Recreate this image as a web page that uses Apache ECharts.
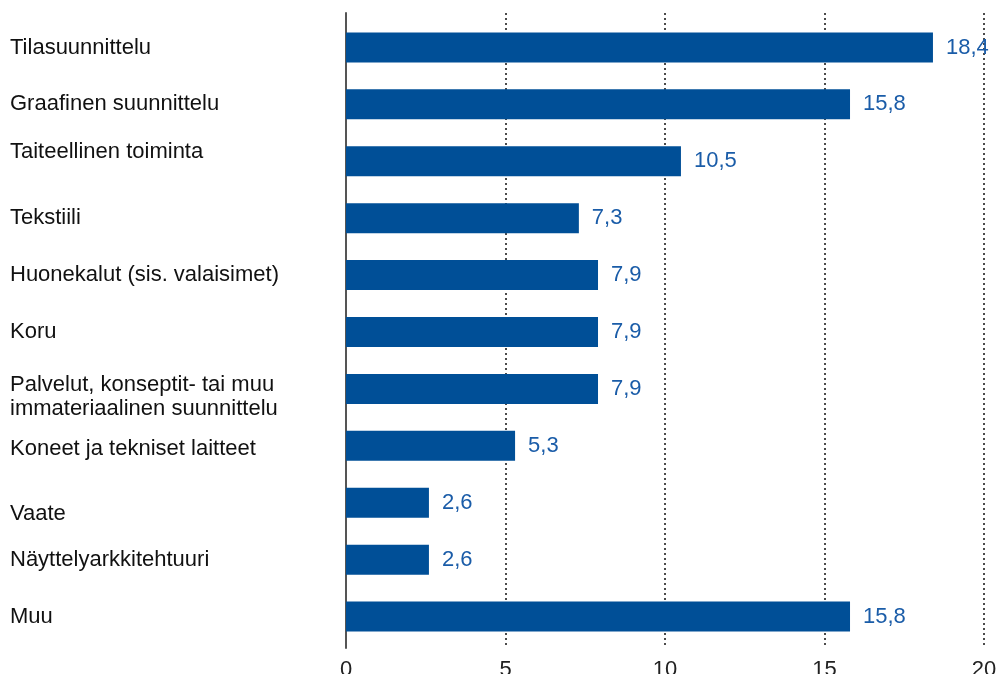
<!DOCTYPE html>
<html><head><meta charset="utf-8">
<script src="https://cdn.jsdelivr.net/npm/echarts@6/dist/echarts.min.js"></script>
<style>html,body{margin:0;padding:0;background:#fff}#c{width:1000px;height:674px}</style>
</head><body><div id="c"></div>
<script>
var categories = ["Tilasuunnittelu","Graafinen suunnittelu","Taiteellinen toiminta","Tekstiili","Huonekalut (sis. valaisimet)","Koru","Palvelut, konseptit- tai muu\nimmateriaalinen suunnittelu","Koneet ja tekniset laitteet","Vaate","Näyttelyarkkitehtuuri","Muu"];
var values = [18.4,15.8,10.5,7.3,7.9,7.9,7.9,5.3,2.6,2.6,15.8];
var xTicks = [0,5,10,15,20];

var FONT = 'Liberation Sans';
// label nudges (styling only): rich style name per category index
var labelNudge = {2:'up9', 6:'down8', 7:'down3', 8:'down11'};
var baseTxt = {fontFamily:FONT, fontSize:22, color:'#111', lineHeight:24};
function st(pad){ return Object.assign({padding:pad}, baseTxt); }
var richStyles = {
  n: baseTxt,
  up9: st([0,0,18,0]),
  down8: st([16,0,0,0]),
  down3: st([6,0,0,0]),
  down11: st([22,0,0,0])
};

var chart = echarts.init(document.getElementById('c'));
chart.setOption({
  animation:false,
  grid:[
    {left:346,right:16,top:19,height:626,containLabel:false,outerBoundsMode:'none'},
    {left:346,right:16,top:13,height:635,containLabel:false,outerBoundsMode:'none'}
  ],
  xAxis:[
    {gridIndex:0,type:'value',min:xTicks[0],max:xTicks[xTicks.length-1],interval:5,
      axisLine:{show:false},axisTick:{show:false},axisLabel:{show:false},splitLine:{show:false}},
    {gridIndex:1,type:'value',min:xTicks[0],max:xTicks[xTicks.length-1],interval:5,
      axisLine:{show:false},axisTick:{show:false},
      axisLabel:{fontFamily:FONT,fontSize:22,color:'#222',margin:11},
      splitLine:{show:true,lineStyle:{type:[2,3],color:'#111',width:1.5}}}
  ],
  yAxis:[
    {gridIndex:0,type:'category',inverse:true,data:categories,
      axisLine:{show:false},axisTick:{show:false},
      axisLabel:{align:'left',margin:336,fontFamily:FONT,fontSize:22,color:'#111',lineHeight:24,
        formatter:function(v,i){
          var s = labelNudge[i] || 'n';
          return v.split('\n').map(function(l){ return '{' + s + '|' + l + '}'; }).join('\n');
        },
        rich:richStyles}},
    {gridIndex:1,type:'value',min:0,max:1,
      axisLine:{show:true,lineStyle:{color:'#555',width:2}},axisTick:{show:false},
      axisLabel:{show:false},splitLine:{show:false}}
  ],
  series:[{type:'bar',xAxisIndex:0,yAxisIndex:0,data:values,barWidth:30,z:3,
    itemStyle:{color:'#004f97'},
    label:{show:true,position:'right',distance:13,fontFamily:FONT,fontSize:22,color:'#1a5ca8',
      formatter:function(p){return String(p.value).replace('.',',');}}}]
});
</script></body></html>
